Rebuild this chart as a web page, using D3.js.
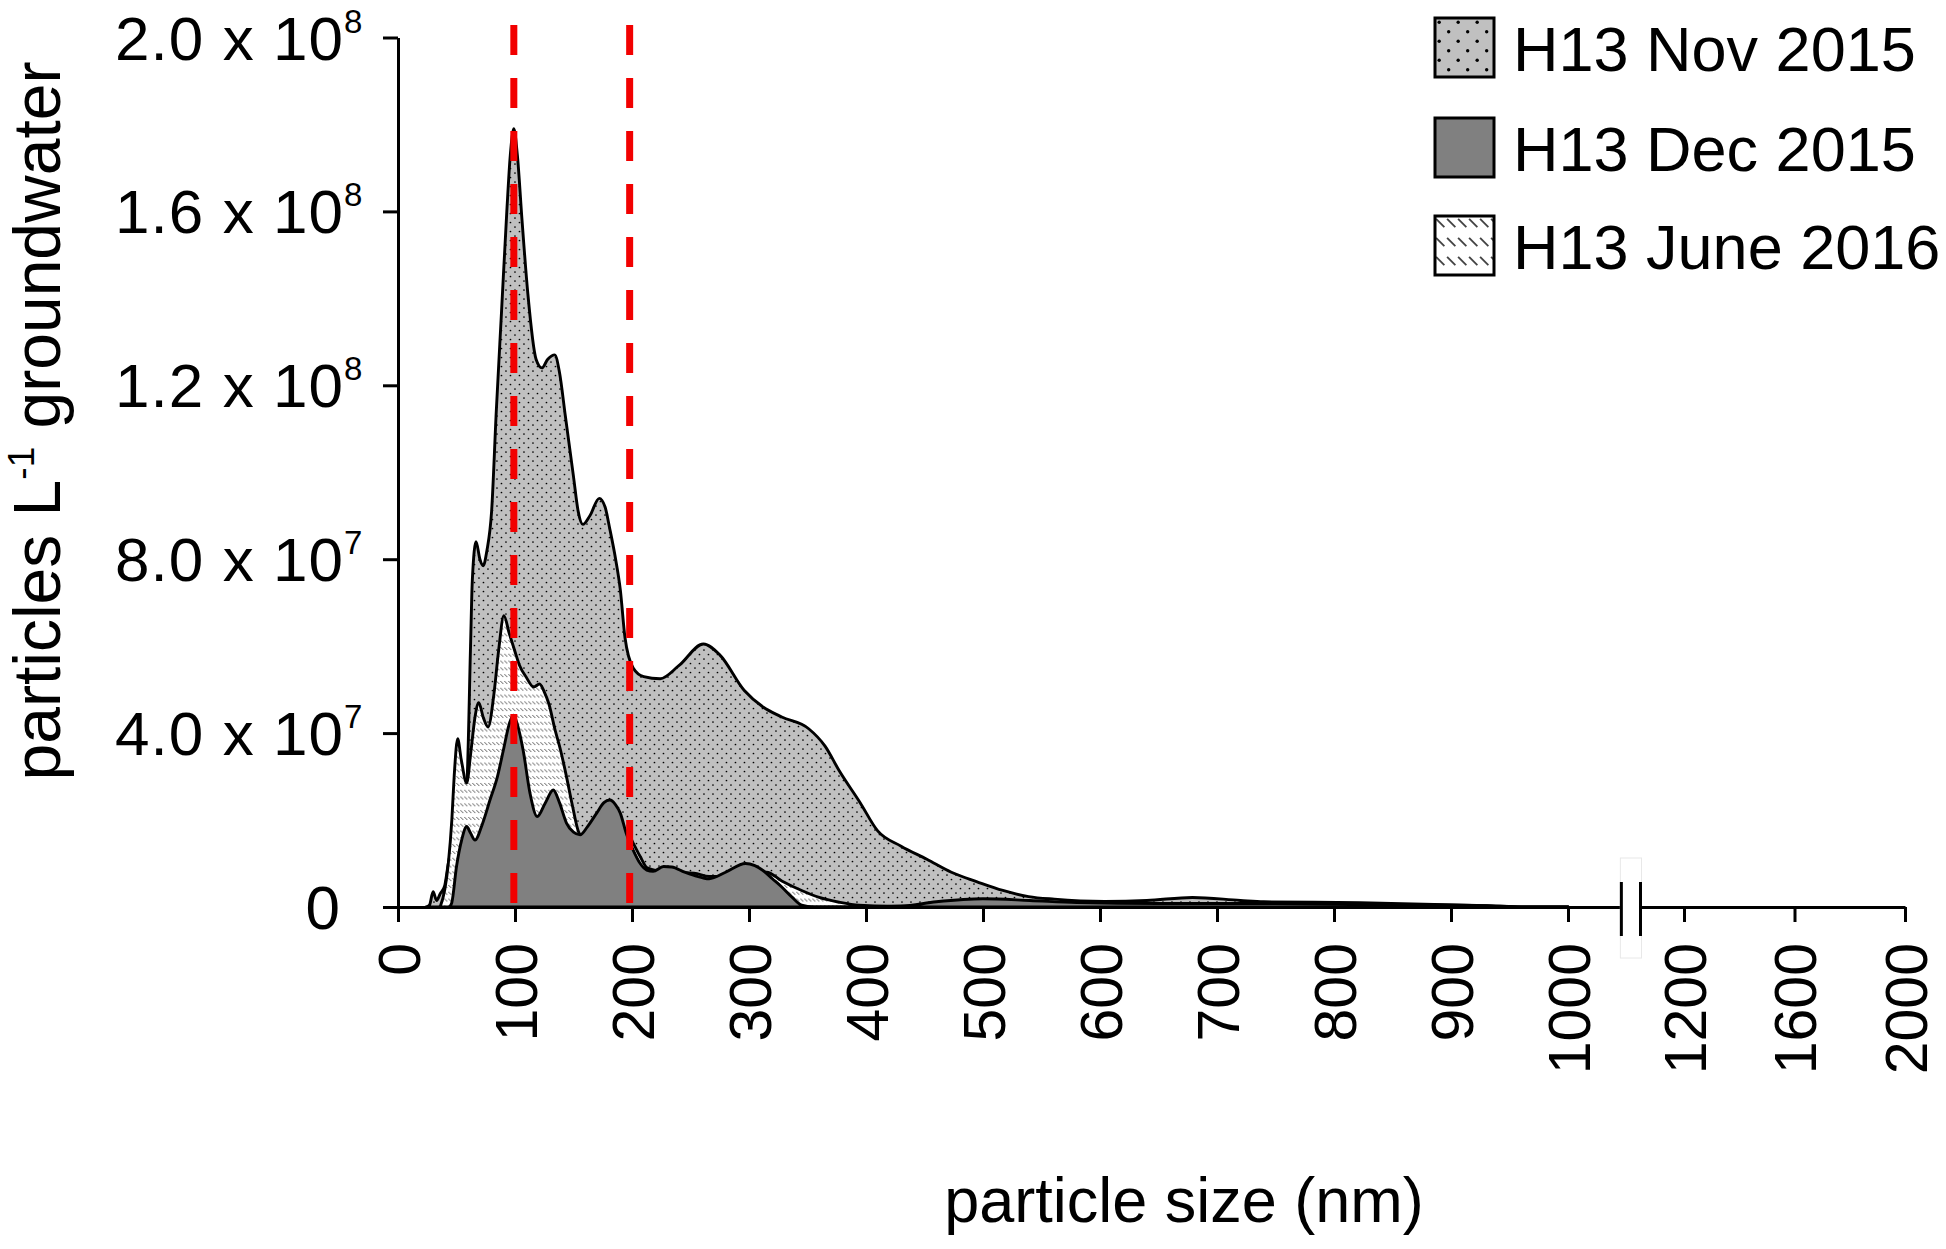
<!DOCTYPE html>
<html>
<head>
<meta charset="utf-8">
<script src="https://cdn.jsdelivr.net/npm/d3@7"></script>
<style>
  body { margin: 0; background: #fff; }
  svg { display: block; font-family: "Liberation Sans", Arial, sans-serif; }
</style>
</head>
<body>
<script>
// particle size (nm) and concentration (x 1e7 particles per litre)
const novSize = [24, 27, 30, 33, 36, 40, 43, 47, 52, 56, 59, 62, 63.5, 66.7, 70, 72.8, 76, 80, 84, 88.5, 93, 96, 99, 102, 106, 111, 118, 123, 128, 134, 138, 143, 150, 154, 158, 164, 172, 177, 181, 186, 190, 194, 201, 210, 224, 240, 261, 275, 296, 312, 328, 351, 365, 377, 395, 410, 430, 452, 473, 495, 517, 539, 561, 604, 640, 679, 720, 740, 822, 931, 965, 1000];
const novValue = [0, 0.05, 0.35, 0.15, 0.3, 0.5, 1.0, 1.5, 1.8, 2.2, 2.9, 6.0, 7.5, 8.4, 8.0, 7.85, 8.2, 9.1, 11.4, 13.7, 16.0, 17.3, 17.9, 17.3, 15.8, 14.1, 12.6, 12.4, 12.6, 12.7, 12.3, 11.3, 9.9, 9.1, 8.8, 9.0, 9.4, 9.2, 8.7, 8.0, 7.3, 6.2, 5.5, 5.3, 5.25, 5.55, 6.05, 5.8, 4.98, 4.6, 4.37, 4.1, 3.7, 3.14, 2.4, 1.75, 1.4, 1.1, 0.8, 0.58, 0.38, 0.24, 0.18, 0.13, 0.15, 0.22, 0.15, 0.12, 0.1, 0.03, 0, 0];

const decSize = [44, 46, 50, 54.4, 58.7, 62, 65.8, 72, 78.6, 85, 90, 95, 98.6, 102, 107, 112.8, 119, 126, 132.7, 138, 144, 150, 155.6, 162, 169.8, 176, 181, 186, 190, 195, 201, 207, 212.6, 218, 227, 234, 245, 253, 266, 280, 297, 305, 312, 320, 328, 337, 345, 355, 430, 460, 500, 540, 580, 650, 750, 850, 930, 960, 1000];
const decValue = [0, 0.1, 0.93, 1.54, 1.85, 1.7, 1.54, 1.9, 2.46, 3.0, 3.6, 4.2, 4.41, 4.2, 3.6, 2.62, 2.08, 2.4, 2.69, 2.4, 1.93, 1.72, 1.66, 1.85, 2.16, 2.4, 2.46, 2.35, 2.16, 1.7, 1.31, 1.0, 0.85, 0.82, 0.93, 0.92, 0.8, 0.73, 0.65, 0.8, 1.0, 0.95, 0.84, 0.65, 0.46, 0.22, 0.04, 0, 0.02, 0.12, 0.19, 0.15, 0.1, 0.08, 0.08, 0.06, 0.03, 0, 0];

const junSize = [36, 40, 43, 46, 48, 51, 54, 58.7, 62, 66, 69, 73, 77, 82, 86, 90.5, 95, 99.7, 104, 109.5, 116, 121, 125, 129, 134, 139, 144, 148.7, 155, 165, 180, 195, 201, 207, 213, 230, 253, 266, 280, 297, 315, 328, 345, 360, 377, 394, 420, 500, 600, 700, 800, 900, 950, 1000];
const junValue = [0, 0.4, 1.0, 2.0, 3.0, 3.87, 3.4, 2.85, 3.5, 4.4, 4.7, 4.35, 4.14, 4.9, 5.9, 6.7, 6.3, 5.9, 5.55, 5.29, 5.06, 5.13, 4.95, 4.67, 4.1, 3.6, 3.0, 2.38, 1.69, 1.5, 1.6, 1.75, 1.47, 1.16, 0.9, 0.8, 0.78, 0.7, 0.7, 0.8, 0.8, 0.6, 0.38, 0.22, 0.11, 0.04, 0.02, 0.05, 0.05, 0.06, 0.04, 0.02, 0, 0];

const unit = 1e7;
const seriesNames = ["H13 Nov 2015", "H13 Dec 2015", "H13 June 2016"];
const xTicks = [0, 100, 200, 300, 400, 500, 600, 700, 800, 900, 1000, 1200, 1600, 2000];
const yTicks = [0, 4e7, 8e7, 1.2e8, 1.6e8, 2e8];
const yTickText = ["0", "4.0 x 10", "8.0 x 10", "1.2 x 10", "1.6 x 10", "2.0 x 10"];
const yTickExp = ["", "7", "7", "8", "8", "8"];
const markerSizes = [99, 198];  // red dashed reference lines
const breakAt = [1092, 1125];   // axis break between 1000 and 1200

const width = 1946, height = 1249;

const svg = d3.select('body').append('svg')
  .attr('width', width)
  .attr('height', height);

// broken axis: linear 0-1000, compressed 1200-2000
const x = d3.scaleLinear()
  .domain([0, 1000, 1200, 2000])
  .range([398, 1568, 1684, 1905]);

const y = d3.scaleLinear()
  .domain([0, 2e8])
  .range([907, 37.5]);

// fill patterns
const defs = svg.append('defs');

function dotPattern(id, size, r) {
  const p = defs.append('pattern')
    .attr('id', id)
    .attr('patternUnits', 'userSpaceOnUse')
    .attr('width', size).attr('height', size);
  p.append('rect').attr('width', size).attr('height', size).attr('fill', '#c0c0c0');
  p.append('circle').attr('cx', size * 0.22).attr('cy', size * 0.22).attr('r', r).attr('fill', '#000');
  p.append('circle').attr('cx', size * 0.72).attr('cy', size * 0.72).attr('r', r).attr('fill', '#000');
}
function hatchPattern(id, w, h, sw) {
  const p = defs.append('pattern')
    .attr('id', id)
    .attr('patternUnits', 'userSpaceOnUse')
    .attr('width', w).attr('height', h);
  p.append('rect').attr('width', w).attr('height', h).attr('fill', '#fff');
  p.append('line')
    .attr('x1', w * 0.1).attr('y1', h * 0.15)
    .attr('x2', w * 0.85).attr('y2', h * 0.58)
    .attr('stroke', '#444').attr('stroke-width', sw);
}
dotPattern('dots', 9, 0.85);
dotPattern('dotsBig', 19, 1.7);
hatchPattern('hatch', 4, 6.8, 0.9);
hatchPattern('hatchBig', 11, 19, 1.8);

const area = d3.area()
  .curve(d3.curveMonotoneX)
  .x(d => x(d[0]))
  .y0(y(0))
  .y1(d => y(d[1] * unit));

const series = [
  { size: novSize, value: novValue, fill: 'url(#dots)' },
  { size: junSize, value: junValue, fill: 'url(#hatch)' },
  { size: decSize, value: decValue, fill: '#808080' }
];

svg.selectAll('path.area')
  .data(series)
  .enter()
  .append('path')
  .attr('class', 'area')
  .attr('d', s => area(d3.zip(s.size, s.value)))
  .attr('fill', s => s.fill)
  .attr('stroke', '#000')
  .attr('stroke-width', 2.9)
  .attr('stroke-linejoin', 'round');

// red dashed lines
svg.selectAll('line.marker')
  .data(markerSizes)
  .enter()
  .append('line')
  .attr('class', 'marker')
  .attr('x1', d => x(d)).attr('x2', d => x(d))
  .attr('y1', 25).attr('y2', y(0))
  .attr('stroke', '#f20000')
  .attr('stroke-width', 7)
  .attr('stroke-dasharray', '30,23');

// y axis
const yAxis = svg.append('g')
  .attr('transform', `translate(${x(0)},0)`)
  .call(d3.axisLeft(y).tickValues(yTicks).tickSize(15).tickSizeOuter(0).tickFormat(''));
yAxis.selectAll('path, line').attr('stroke', '#000').attr('stroke-width', 3);

const yLab = svg.append('g');
yTicks.forEach((v, i) => {
  const ty = y(v);
  const endX = i === 0 ? 340 : 343;
  yLab.append('text')
    .attr('x', endX).attr('y', ty + 22)
    .attr('text-anchor', 'end')
    .attr('font-size', 62)
    .attr('textLength', i === 0 ? null : 228)
    .attr('lengthAdjust', 'spacing')
    .text(yTickText[i]);
  if (yTickExp[i]) {
    yLab.append('text')
      .attr('x', 344).attr('y', ty - 5)
      .attr('font-size', 33)
      .text(yTickExp[i]);
  }
});

// x axis
const xAxis = svg.append('g')
  .attr('transform', `translate(0,${y(0)})`)
  .call(d3.axisBottom(x).tickValues(xTicks).tickSize(15).tickSizeOuter(0).tickFormat(d3.format('d')));
xAxis.selectAll('path, line').attr('stroke', '#000').attr('stroke-width', 3);
xAxis.selectAll('text')
  .attr('transform', 'rotate(-90)')
  .attr('x', -36)
  .attr('y', 0)
  .attr('dy', '0.36em')
  .attr('text-anchor', 'end')
  .attr('font-size', 59)
  .attr('font-family', '"Liberation Sans", Arial, sans-serif')
  .attr('fill', '#000');

// axis break
svg.append('rect')
  .attr('x', x(breakAt[0]) - 1).attr('y', 858)
  .attr('width', x(breakAt[1]) - x(breakAt[0]) + 2).attr('height', 100)
  .attr('fill', '#fff')
  .attr('stroke', '#e8e8e8')
  .attr('stroke-width', 1);
svg.selectAll('line.brk')
  .data(breakAt)
  .enter()
  .append('line')
  .attr('class', 'brk')
  .attr('x1', d => x(d)).attr('x2', d => x(d))
  .attr('y1', 882).attr('y2', 936)
  .attr('stroke', '#000')
  .attr('stroke-width', 3);

// axis titles
svg.append('text')
  .attr('x', 1184).attr('y', 1222)
  .attr('text-anchor', 'middle')
  .attr('font-size', 63)
  .text('particle size (nm)');

const yTitle = svg.append('text')
  .attr('transform', 'translate(60,421) rotate(-90)')
  .attr('text-anchor', 'middle')
  .attr('font-size', 66);
yTitle.append('tspan').text('particles L');
yTitle.append('tspan').attr('font-size', 37).attr('dy', -26).text('-1');
yTitle.append('tspan').attr('dy', 26).text(' groundwater');

// legend
const legendFill = ['url(#dotsBig)', '#808080', 'url(#hatchBig)'];
const legendY = [18, 118, 216];
const legend = svg.selectAll('g.legend')
  .data(seriesNames)
  .enter()
  .append('g')
  .attr('class', 'legend')
  .attr('transform', (d, i) => `translate(1435,${legendY[i]})`);
legend.append('rect')
  .attr('width', 59).attr('height', 59)
  .attr('fill', (d, i) => legendFill[i])
  .attr('stroke', '#000')
  .attr('stroke-width', 3);
legend.append('text')
  .attr('x', 78).attr('y', 53)
  .attr('font-size', 63)
  .text(d => d);
</script>
</body>
</html>
